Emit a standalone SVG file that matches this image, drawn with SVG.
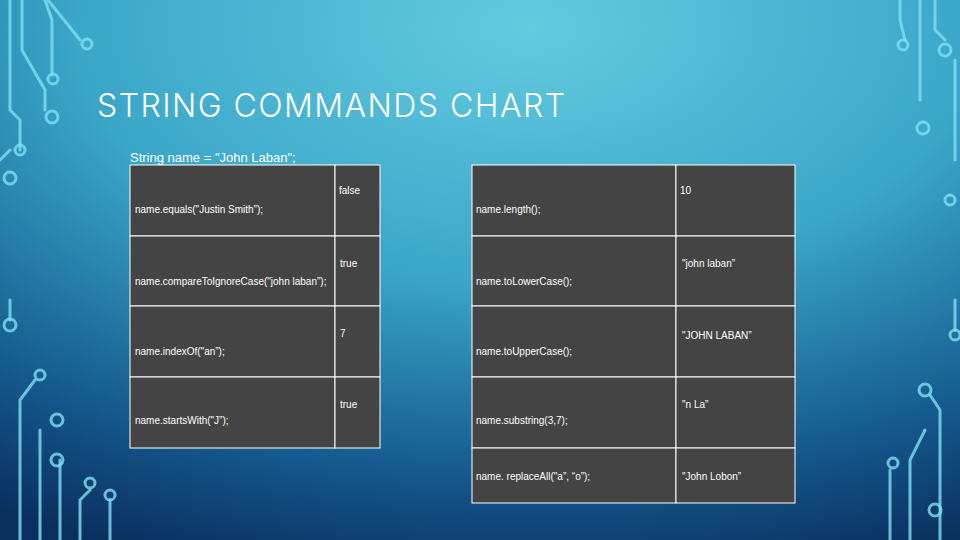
<svg xmlns="http://www.w3.org/2000/svg" width="960" height="540" viewBox="0 0 960 540">
<defs>
<radialGradient id="bg" cx="0.55" cy="0.05" r="1.05">
<stop offset="0" stop-color="#63cbe0"/>
<stop offset="0.45" stop-color="#3aa6c8"/>
<stop offset="0.8" stop-color="#14578c"/>
<stop offset="1" stop-color="#0a2f5e"/>
</radialGradient>
</defs>
<style>
.c{fill:#444;stroke:#fff;stroke-width:1}
.t{font-family:"Liberation Sans Narrow","Liberation Sans",sans-serif;font-size:10px;fill:#fff}
.w{fill:none;stroke:#7fe0f0;stroke-width:3;stroke-linecap:round;opacity:0.8}
.d{fill:none;stroke:#7fe0f0;stroke-width:3;opacity:0.8}
</style>
<rect width="960" height="540" fill="url(#bg)"/>
<g id="circuits">
<path class="w" d="M10 0V110L20 120V150"/><circle class="d" cx="20" cy="150" r="5"/>
<path class="w" d="M22 0V50L45 90V110"/><circle class="d" cx="52" cy="117" r="6"/>
<path class="w" d="M45 0L52 20V75"/><circle class="d" cx="53" cy="79" r="5"/>
<path class="w" d="M48 0L60 15L80 40"/><circle class="d" cx="87" cy="44" r="5"/>
<path class="w" d="M10 150L0 160"/><circle class="d" cx="10" cy="178" r="6"/>
<path class="w" d="M10 300V320"/><circle class="d" cx="10" cy="325" r="6"/>
<path class="w" d="M20 540V400L35 380"/><circle class="d" cx="40" cy="375" r="5"/>
<path class="w" d="M40 540V430"/><circle class="d" cx="57" cy="420" r="6"/>
<path class="w" d="M60 540V460"/><circle class="d" cx="57" cy="460" r="6"/>
<path class="w" d="M80 540V500L90 490"/><circle class="d" cx="90" cy="483" r="5"/>
<path class="w" d="M110 540V500"/><circle class="d" cx="110" cy="495" r="5"/>
<path class="w" d="M935 0V30L945 40"/><circle class="d" cx="945" cy="50" r="6"/>
<path class="w" d="M920 0V100"/><circle class="d" cx="923" cy="128" r="6"/>
<path class="w" d="M900 0V20L905 40"/><circle class="d" cx="903" cy="45" r="5"/>
<path class="w" d="M955 60V160"/><circle class="d" cx="950" cy="200" r="5"/>
<path class="w" d="M940 540V410L930 395"/><circle class="d" cx="935" cy="510" r="6"/>
<path class="w" d="M910 540V460L925 430"/><circle class="d" cx="925" cy="390" r="6"/>
<path class="w" d="M890 540V470"/><circle class="d" cx="893" cy="463" r="5"/>
<path class="w" d="M955 300V330"/><circle class="d" cx="955" cy="335" r="5"/>
</g>
<text x="97" y="117" font-family="Inter,'Liberation Sans',sans-serif" font-size="32" fill="#fff" font-weight="300" textLength="468" lengthAdjust="spacing">STRING COMMANDS CHART</text>
<text x="130" y="162" font-family="'Liberation Sans',sans-serif" font-size="13" fill="#fff">String name = "John Laban";</text>
<g id="left">
<rect class="c" x="130" y="165" width="205" height="71"/><rect class="c" x="335" y="165" width="45" height="71"/>
<rect class="c" x="130" y="236" width="205" height="70"/><rect class="c" x="335" y="236" width="45" height="70"/>
<rect class="c" x="130" y="306" width="205" height="71"/><rect class="c" x="335" y="306" width="45" height="71"/>
<rect class="c" x="130" y="377" width="205" height="71"/><rect class="c" x="335" y="377" width="45" height="71"/>
<text class="t" x="135" y="213">name.equals("Justin Smith”);</text><text class="t" x="339" y="194">false</text>
<text class="t" x="135" y="285">name.compareToIgnoreCase("john laban”);</text><text class="t" x="340" y="267">true</text>
<text class="t" x="135" y="355">name.indexOf("an”);</text><text class="t" x="340" y="337">7</text>
<text class="t" x="135" y="424">name.startsWith("J”);</text><text class="t" x="340" y="408">true</text>
</g>
<g id="right">
<rect class="c" x="472" y="165" width="204" height="71"/><rect class="c" x="676" y="165" width="119" height="71"/>
<rect class="c" x="472" y="236" width="204" height="70"/><rect class="c" x="676" y="236" width="119" height="70"/>
<rect class="c" x="472" y="306" width="204" height="71"/><rect class="c" x="676" y="306" width="119" height="71"/>
<rect class="c" x="472" y="377" width="204" height="71"/><rect class="c" x="676" y="377" width="119" height="71"/>
<rect class="c" x="472" y="448" width="204" height="55"/><rect class="c" x="676" y="448" width="119" height="55"/>
<text class="t" x="476" y="213">name.length();</text><text class="t" x="680" y="194">10</text>
<text class="t" x="476" y="285">name.toLowerCase();</text><text class="t" x="682" y="267">"john laban”</text>
<text class="t" x="476" y="355">name.toUpperCase();</text><text class="t" x="682" y="339">"JOHN LABAN”</text>
<text class="t" x="476" y="424">name.substring(3,7);</text><text class="t" x="682" y="408">"n La”</text>
<text class="t" x="476" y="480">name. replaceAll("a”, “o”);</text><text class="t" x="682" y="480">"John Lobon”</text>
</g>
</svg>
